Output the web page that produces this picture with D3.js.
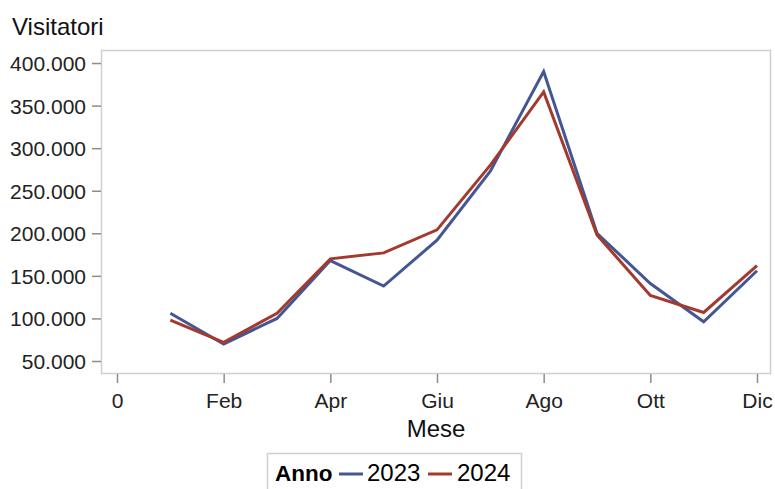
<!DOCTYPE html>
<html>
<head>
<meta charset="utf-8">
<script src="https://cdn.jsdelivr.net/npm/d3@7"></script>
<style>
  html, body { margin: 0; padding: 0; background: #fff; }
  svg { display: block; font-family: "Liberation Sans", Arial, sans-serif; }
</style>
</head>
<body>
<svg id="chart" width="775" height="489"></svg>
<script>
// ---- Data ----
const months = [1, 2, 3, 4, 5, 6, 7, 8, 9, 10, 11, 12];
const visitors2023 = [106000, 70000, 100000, 168000, 138000, 192000, 273000, 390000, 200000, 141000, 96000, 156000];
const visitors2024 = [98000, 72000, 106000, 170000, 177000, 204000, 280000, 366000, 198000, 127000, 107000, 162000];
const seriesNames = ["2023", "2024"];
const xTickValues = [0, 2, 4, 6, 8, 10, 12];
const xTickLabels = ["0", "Feb", "Apr", "Giu", "Ago", "Ott", "Dic"];
const yTickValues = [50000, 100000, 150000, 200000, 250000, 300000, 350000, 400000];

const colors = ["#445694", "#A23A2E"];

const svg = d3.select("#chart");
const plot = { left: 101, right: 771, top: 50, bottom: 373 };

const x = d3.scaleLinear().domain([-0.3, 12.2625]).range([plot.left, plot.right]);
const y = d3.scaleLinear().domain([35900, 415300]).range([plot.bottom, plot.top]);

const it = d3.formatLocale({ decimal: ",", thousands: ".", grouping: [3], currency: ["€", ""] });
const fmt = it.format(",d");

// Frame
svg.append("rect")
  .attr("x", plot.left + 0.5).attr("y", plot.top + 0.5)
  .attr("width", plot.right - plot.left - 1).attr("height", plot.bottom - plot.top)
  .attr("fill", "none").attr("stroke", "#d0d0d0").attr("stroke-width", 1.5);

// Y axis
const yAxis = svg.append("g")
  .attr("transform", `translate(${plot.left},0)`)
  .call(d3.axisLeft(y).tickValues(yTickValues).tickFormat(fmt).tickSize(9).tickPadding(6));
yAxis.select(".domain").remove();
yAxis.selectAll(".tick line").attr("stroke", "#8c8c8c").attr("stroke-width", 1.5);
yAxis.selectAll(".tick text").attr("fill", "#222").style("font-size", "21px").attr("dy", "0.36em");

// X axis
const xAxis = svg.append("g")
  .attr("transform", `translate(0,${plot.bottom + 1})`)
  .call(d3.axisBottom(x).tickValues(xTickValues)
    .tickFormat((d, i) => xTickLabels[i]).tickSize(9).tickPadding(10));
xAxis.select(".domain").remove();
xAxis.selectAll(".tick line").attr("stroke", "#8c8c8c").attr("stroke-width", 1.5);
xAxis.selectAll(".tick text").attr("fill", "#222").style("font-size", "21px");

// Axis titles
svg.append("text").attr("x", 12).attr("y", 35)
  .style("font-size", "24px").attr("fill", "#111").text("Visitatori");
svg.append("text").attr("x", (plot.left + plot.right) / 2).attr("y", 437)
  .attr("text-anchor", "middle").style("font-size", "24px").attr("fill", "#111").text("Mese");

// Lines
const series = [visitors2023, visitors2024];
const line = d3.line().x((d, i) => x(months[i])).y(d => y(d));
series.forEach((vals, k) => {
  svg.append("path").datum(vals)
    .attr("d", line)
    .attr("fill", "none")
    .attr("stroke", colors[k])
    .attr("stroke-width", 3)
    .attr("stroke-linejoin", "miter");
});

// Legend
const lg = svg.append("g");
lg.append("rect").attr("x", 267.5).attr("y", 453.5).attr("width", 254).attr("height", 50)
  .attr("fill", "#fff").attr("stroke", "#d0d0d0").attr("stroke-width", 1.5);
lg.append("text").attr("x", 275).attr("y", 481).style("font-size", "22.5px")
  .style("font-weight", "bold").attr("fill", "#000").text("Anno");
const legendItems = [{ sx: 339, tx: 367 }, { sx: 428, tx: 457 }];
seriesNames.forEach((name, k) => {
  lg.append("line").attr("x1", legendItems[k].sx).attr("x2", legendItems[k].sx + 24)
    .attr("y1", 474).attr("y2", 474).attr("stroke", colors[k]).attr("stroke-width", 3);
  lg.append("text").attr("x", legendItems[k].tx).attr("y", 481).style("font-size", "24px")
    .attr("fill", "#000").text(name);
});
</script>
</body>
</html>
